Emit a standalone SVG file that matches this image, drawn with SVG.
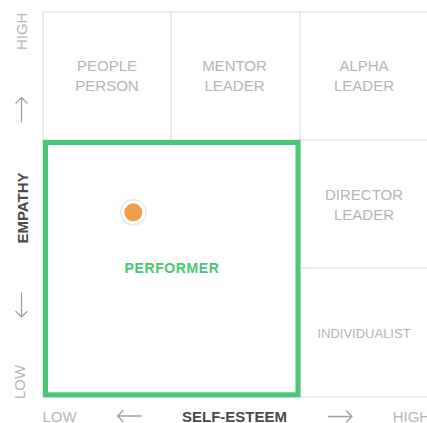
<svg xmlns="http://www.w3.org/2000/svg" width="427" height="423" viewBox="0 0 427 423">
  <style>
    .grid { stroke: #e6e6e6; stroke-width: 1.5; fill: none; }
    .cell { font-family: "Liberation Sans", Arial, sans-serif; font-size: 15px; fill: #b5b5b5; text-anchor: middle; }
    .axis { font-family: "Liberation Sans", Arial, sans-serif; font-size: 15px; fill: #b5b5b5; text-anchor: middle; }
    .title { font-family: "Liberation Sans", Arial, sans-serif; font-size: 15px; font-weight: bold; fill: #4a4a4a; text-anchor: middle; }
    .arrow { stroke: #a0a0a0; stroke-width: 1.3; fill: none; stroke-linecap: round; stroke-linejoin: round; }
  </style>
  <rect x="0" y="0" width="427" height="423" fill="#ffffff"/>
  <g id="grid">
    <path class="grid" d="M43 12 H427 M43 12 V397 M171 12 V140 M300 12 V397 M43 140 H427 M300 268 H427 M43 397 H427"/>
  </g>
  <g id="people-person">
    <text class="cell" x="107" y="70.7">PEOPLE</text>
    <text class="cell" x="107" y="90.7">PERSON</text>
  </g>
  <g id="mentor-leader">
    <text class="cell" x="234.5" y="70.7">MENTOR</text>
    <text class="cell" x="234.5" y="90.7">LEADER</text>
  </g>
  <g id="alpha-leader">
    <text class="cell" x="364" y="70.7">ALPHA</text>
    <text class="cell" x="364" y="90.7">LEADER</text>
  </g>
  <g id="director-leader">
    <text class="cell" x="364" y="199.5">DIRECTOR</text>
    <text class="cell" x="364" y="219.5">LEADER</text>
  </g>
  <g id="individualist">
    <text class="cell" x="364" y="337.5" style="font-size:13px">INDIVIDUALIST</text>
  </g>
  <g id="performer">
    <rect x="45.5" y="142.5" width="252.5" height="252.3" fill="#ffffff" stroke="#48c774" stroke-width="5"/>
    <text x="172" y="272.7" style="font-family:'Liberation Sans', Arial, sans-serif; font-size:14px; font-weight:bold; fill:#48c774; text-anchor:middle; letter-spacing:0.6px">PERFORMER</text>
  </g>
  <g id="marker-dot">
    <circle cx="133.3" cy="212.3" r="12.5" fill="#ffffff" stroke="#e8e8e8" stroke-width="1.5"/>
    <circle cx="133.3" cy="212.3" r="9" fill="#f39c4a"/>
  </g>
  <g id="y-axis">
    <text class="axis" transform="translate(26.7,31.3) rotate(-90)">HIGH</text>
    <text class="title" transform="translate(28.3,208) rotate(-90)">EMPATHY</text>
    <text class="axis" transform="translate(25,382) rotate(-90)">LOW</text>
  </g>
  <g id="x-axis">
    <text class="axis" x="59.5" y="422">LOW</text>
    <text class="title" x="234.5" y="422">SELF-ESTEEM</text>
    <text class="axis" x="392.7" y="422" style="text-anchor:start">HIGH</text>
  </g>
  <g id="connectors">
    <path class="arrow" d="M21.5 97.5 V122 M16 103 L21.5 97.5 L27 103"/>
    <path class="arrow" d="M21.5 293 V317 M16 311.5 L21.5 317 L27 311.5"/>
    <path class="arrow" d="M117.5 416 H141.5 M123 410.5 L117.5 416 L123 421.5"/>
    <path class="arrow" d="M328.5 416.5 H352 M346.5 411 L352 416.5 L346.5 422"/>
  </g>
</svg>
